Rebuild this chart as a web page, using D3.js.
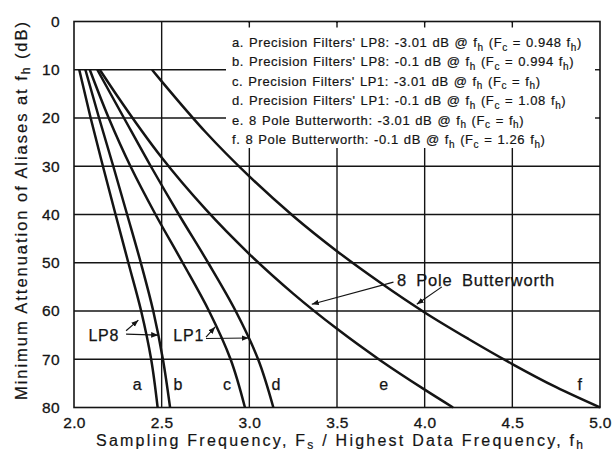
<!DOCTYPE html>
<html>
<head>
<meta charset="utf-8">
<script src="https://cdn.jsdelivr.net/npm/d3@7"></script>
<style>
  html, body { margin: 0; padding: 0; background: #fff; }
  svg { display: block; font-family: "Liberation Sans", Arial, Helvetica, sans-serif; }
</style>
</head>
<body>
<svg id="chart" width="613" height="455"></svg>
<script>
// ---------------- DATA ----------------
// Attenuation levels (dB) at which the Precision Filters curves were read
const dbLevels = [10, 20, 30, 40, 50, 60, 70, 80];
// Sampling frequency ratio Fs/fh at each dB level
const fsA = [2.030, 2.095, 2.165, 2.237, 2.310, 2.383, 2.440, 2.477]; // LP8 -3.01 dB
const fsB = [2.065, 2.143, 2.224, 2.303, 2.381, 2.452, 2.507, 2.548]; // LP8 -0.1 dB
const fsC = [2.090, 2.198, 2.322, 2.465, 2.620, 2.770, 2.893, 2.975]; // LP1 -3.01 dB
const fsD = [2.133, 2.285, 2.438, 2.598, 2.765, 2.922, 3.050, 3.137]; // LP1 -0.1 dB
// 8 pole Butterworth curves (Fs/fh, dB)
const fsE = [2.147, 2.25, 2.5, 2.75, 3.0, 3.25, 3.5, 3.75, 4.0, 4.162];
const dbE = [10, 15.6, 28.2, 38.9, 48.2, 56.4, 63.7, 70.3, 76.3, 80];
const fsF = [2.445, 2.5, 2.75, 3.0, 3.25, 3.5, 3.75, 4.0, 4.25, 4.5, 4.75, 5.0];
const dbF = [10, 12.4, 22.9, 32.1, 40.3, 47.6, 54.2, 60.3, 65.8, 71.0, 75.8, 80];

const curveLetters = ["a", "b", "c", "d", "e", "f"];
const letterFs = [2.36, 2.593, 2.873, 3.152, 3.766, 4.884];
const letterDb = 75.1;

const xTicks = [2.0, 2.5, 3.0, 3.5, 4.0, 4.5, 5.0];
const yTicks = [0, 10, 20, 30, 40, 50, 60, 70, 80];

const legendLines = [
  [["a. Precision Filters' LP8: -3.01 dB @ f"], ["h", 1], [" (F"], ["c", 1], [" = 0.948 f"], ["h", 1], [")"]],
  [["b. Precision Filters' LP8: -0.1 dB @ f"], ["h", 1], [" (F"], ["c", 1], [" = 0.994 f"], ["h", 1], [")"]],
  [["c. Precision Filters' LP1: -3.01 dB @ f"], ["h", 1], [" (F"], ["c", 1], [" = f"], ["h", 1], [")"]],
  [["d. Precision Filters' LP1: -0.1 dB @ f"], ["h", 1], [" (F"], ["c", 1], [" = 1.08 f"], ["h", 1], [")"]],
  [["e. 8 Pole Butterworth: -3.01 dB @ f"], ["h", 1], [" (F"], ["c", 1], [" = f"], ["h", 1], [")"]],
  [["f. 8 Pole Butterworth: -0.1 dB @ f"], ["h", 1], [" (F"], ["c", 1], [" = 1.26 f"], ["h", 1], [")"]]
];

const xTitle = [["Sampling Frequency, F"], ["s", 1], [" / Highest Data Frequency, f"], ["h", 1]];
const yTitle = [["Minimum Attenuation of Aliases at f"], ["h", 1], [" (dB)"]];

// ---------------- LAYOUT ----------------
const svg = d3.select("#chart");
const x = d3.scaleLinear().domain([2, 5]).range([74, 600]);
const y = d3.scaleLinear().domain([0, 80]).range([21.5, 407.5]);
const ink = "#141414";

function rich(sel, parts, subSize, shift) {
  parts.forEach((p, i) => {
    const t = sel.append("tspan").text(p[0]);
    if (p[1]) t.attr("font-size", subSize).attr("dy", shift);
    else if (i > 0 && parts[i - 1][1]) t.attr("dy", -shift);
  });
}

// grid
const g = svg.append("g");
const legendBox = { x0: 226, x1: 599, y0: 23, y1: 148 };
yTicks.slice(1, -1).forEach(v => {
  g.append("line").attr("x1", x(2)).attr("x2", x(5)).attr("y1", y(v)).attr("y2", y(v))
    .attr("stroke", ink).attr("stroke-width", 1.4);
});
xTicks.slice(1, -1).forEach(v => {
  g.append("line").attr("x1", x(v)).attr("x2", x(v)).attr("y1", y(0)).attr("y2", y(80))
    .attr("stroke", ink).attr("stroke-width", 1.4);
});

// legend panel over the grid
g.append("rect").attr("x", legendBox.x0).attr("y", legendBox.y0)
  .attr("width", legendBox.x1 - legendBox.x0).attr("height", legendBox.y1 - legendBox.y0)
  .attr("fill", "#fff");
xTicks.slice(1, -1).filter(v => x(v) > legendBox.x0).forEach(v => {
  g.append("line").attr("x1", x(v)).attr("x2", x(v)).attr("y1", y(0)).attr("y2", y(0) + 6)
    .attr("stroke", ink).attr("stroke-width", 1.4);
});
yTicks.filter(v => y(v) > legendBox.y0 && y(v) < legendBox.y1).forEach(v => {
  g.append("line").attr("x1", x(5) - 5).attr("x2", x(5)).attr("y1", y(v)).attr("y2", y(v))
    .attr("stroke", ink).attr("stroke-width", 1.4);
});

// frame
svg.append("rect").attr("x", x(2)).attr("y", y(0)).attr("width", x(5) - x(2)).attr("height", y(80) - y(0))
  .attr("fill", "none").attr("stroke", ink).attr("stroke-width", 1.6);

// legend text
const leg = svg.append("g").attr("font-size", 13).attr("fill", ink)
  .attr("letter-spacing", 0.6).attr("word-spacing", 0.8)
  .attr("stroke", ink).attr("stroke-width", 0.2);
legendLines.forEach((parts, i) => {
  const t = leg.append("text").attr("x", 232).attr("y", 47 + i * 19.4);
  rich(t, parts, 10, 3.5);
});

// curves
const lineFsDb = d3.line().x(d => x(d[0])).y(d => y(d[1])).curve(d3.curveMonotoneY);
const lineBw = d3.line().x(d => x(d[0])).y(d => y(d[1])).curve(d3.curveMonotoneX);
const precisionCurves = [fsA, fsB, fsC, fsD].map(arr => arr.map((v, i) => [v, dbLevels[i]]));
const bwCurves = [fsE.map((v, i) => [v, dbE[i]]), fsF.map((v, i) => [v, dbF[i]])];
const cg = svg.append("g").attr("fill", "none").attr("stroke", ink).attr("stroke-width", 2.5)
  .attr("stroke-linejoin", "round");
cg.selectAll("path.p").data(precisionCurves).join("path").attr("class", "p").attr("d", lineFsDb);
cg.selectAll("path.bw").data(bwCurves).join("path").attr("class", "bw").attr("d", lineBw);

// curve letters
svg.append("g").attr("font-size", 16).attr("fill", ink).attr("text-anchor", "middle")
  .attr("stroke", ink).attr("stroke-width", 0.25)
  .selectAll("text").data(curveLetters).join("text")
  .attr("x", (d, i) => x(letterFs[i])).attr("y", y(letterDb) + 6).text(d => d);

// arrow marker
svg.append("defs").append("marker").attr("id", "arr").attr("viewBox", "0 0 10 10")
  .attr("refX", 10).attr("refY", 5).attr("markerWidth", 7).attr("markerHeight", 7)
  .attr("markerUnits", "userSpaceOnUse").attr("orient", "auto")
  .append("path").attr("d", "M0,1 L10,5 L0,9 z").attr("fill", ink);

// annotations (data coordinates)
const annTexts = [
  { label: "LP8", fs: 2.082, db: 66.3, size: 16 },
  { label: "LP1", fs: 2.566, db: 66.3, size: 16 },
  { label: "8 Pole Butterworth", fs: 3.842, db: 54.8, size: 16.5 }
];
const annArrows = [
  [[2.297, 64.1], [2.367, 61.9]],
  [[2.297, 64.8], [2.480, 65.0]],
  [[2.753, 65.4], [2.805, 63.3]],
  [[2.753, 65.7], [2.996, 65.6]],
  [[3.822, 54.0], [3.356, 58.6]],
  [[4.098, 55.0], [3.955, 58.6]]
];
const ann = svg.append("g").attr("fill", ink);
annTexts.forEach(a => {
  ann.append("text").attr("x", x(a.fs)).attr("y", y(a.db)).attr("font-size", a.size)
    .attr("letter-spacing", 0.8).attr("word-spacing", 4)
    .attr("stroke", ink).attr("stroke-width", 0.25).text(a.label);
});
annArrows.forEach(a => {
  ann.append("line").attr("x1", x(a[0][0])).attr("y1", y(a[0][1]))
    .attr("x2", x(a[1][0])).attr("y2", y(a[1][1]))
    .attr("stroke", ink).attr("stroke-width", 1.2).attr("marker-end", "url(#arr)");
});

// axes (labels only)
const xAxis = svg.append("g").attr("transform", `translate(0,${y(80)})`)
  .call(d3.axisBottom(x).tickValues(xTicks).tickFormat(d3.format(".1f")).tickSize(0).tickPadding(9));
const yAxis = svg.append("g").attr("transform", `translate(${x(2)},0)`)
  .call(d3.axisLeft(y).tickValues(yTicks).tickSize(0).tickPadding(14));
[xAxis, yAxis].forEach(a => {
  a.select(".domain").remove();
  a.selectAll("text").attr("font-size", 15.5).attr("fill", ink)
    .attr("font-family", "'Liberation Sans', Arial, sans-serif").attr("letter-spacing", 0.4)
    .attr("stroke", ink).attr("stroke-width", 0.3);
});

// axis titles
const xt = svg.append("text").attr("x", 96).attr("y", 446).attr("font-size", 16).attr("fill", ink)
  .attr("stroke", ink).attr("stroke-width", 0.2)
  .attr("textLength", 487).attr("lengthAdjust", "spacing");
rich(xt, xTitle, 12, 3);
const yt = svg.append("text").attr("transform", "translate(27,400) rotate(-90)")
  .attr("font-size", 16.5).attr("fill", ink).attr("stroke", ink).attr("stroke-width", 0.2)
  .attr("textLength", 378).attr("lengthAdjust", "spacing");
rich(yt, yTitle, 12, 3);
</script>
</body>
</html>
